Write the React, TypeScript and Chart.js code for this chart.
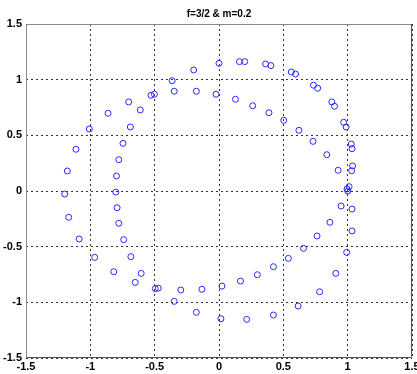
import React, { useEffect, useRef } from "react";
import { Chart, registerables } from "chart.js";
Chart.register(...registerables);

const TITLE = "f=3/2 & m=0.2";
const axisMin = -1.5;
const axisMax = 1.5;
const axisStep = 0.5;

const xValues = [
  0, 0.159, 0.2, 0.362, 0.403, 0.562, 0.595, 0.734, 0.767, 0.877, 0.898, 0.969, 0.988,
  1.028, 1.034, 1.038, 1.031, 1.011, 0.995, 1.001, 0.949, 1.034, 0.862, 1.034, 0.762,
  0.657, 0.992, 0.539, 0.423, 0.908, 0.298, 0.167, 0.023, 0.782, 0.615, 0.015, 0.215, 0.423,
  0.128, 0.262, 0.388, 0.503, 0.621, 0.731, 0.838, 0.926,
  -0.197, -0.364, -0.348, -0.176, -0.023, -0.528, -0.502, -0.702, -0.612, -0.862, -0.689,
  -1.008, -0.746, -1.112, -0.779, -1.179, -0.797, -0.802, -1.199, -0.792, -1.168, -0.779,
  -1.087, -0.741, -0.966, -0.685, -0.818, -0.605, -0.651, -0.495, -0.472, -0.297, -0.133,
  -0.348, -0.176,
];
const yValues = [
  1.147, 1.162, 1.162, 1.141, 1.126, 1.069, 1.051, 0.95, 0.923, 0.8, 0.761, 0.617, 0.575,
  0.422, 0.38, 0.225, 0.182, 0.039, 0.018, 0.0, -0.135, -0.162, -0.281, -0.359, -0.404,
  -0.515, -0.551, -0.605, -0.68, -0.74, -0.752, -0.809, -0.854, -0.905, -1.033, -1.147, -1.153, -1.114,
  0.824, 0.766, 0.703, 0.635, 0.545, 0.446, 0.326, 0.186,
  1.087, 0.991, 0.896, 0.896, 0.869, 0.86, 0.869, 0.8, 0.728, 0.698, 0.575,
  0.557, 0.428, 0.375, 0.281, 0.18, 0.135, -0.01, -0.027, -0.15, -0.236, -0.29,
  -0.431, -0.437, -0.596, -0.59, -0.725, -0.74, -0.821, -0.877, -0.872, -0.889, -0.883,
  -0.991, -1.09,
];

const FONT_FAMILY = "'Liberation Sans Narrow', 'Liberation Sans', Arial, sans-serif";
const fmt = (v: number) => String(Math.round(v * 10) / 10);

export default function App() {
  const ref = useRef<HTMLCanvasElement>(null);
  useEffect(() => {
    if (!ref.current) return;
    const boxPlugin = {
      id: "boxAndTitle",
      afterDraw(chart: any) {
        const { ctx, chartArea: a } = chart;
        const l = Math.round(a.left) + 0.5;
        const r = Math.round(a.right) - 0.5;
        const t = Math.round(a.top) + 0.5;
        const b = Math.round(a.bottom) - 0.5;
        ctx.save();
        ctx.lineWidth = 1;
        ctx.strokeStyle = "#8a8a8a";
        ctx.beginPath();
        ctx.moveTo(l, b);
        ctx.lineTo(l, t);
        ctx.lineTo(r, t);
        ctx.stroke();
        ctx.strokeStyle = "#555";
        ctx.beginPath();
        ctx.moveTo(r, t);
        ctx.lineTo(r, b);
        ctx.lineTo(l, b);
        ctx.stroke();
        ctx.fillStyle = "#000";
        ctx.font = `bold 10px ${FONT_FAMILY}`;
        ctx.textAlign = "center";
        ctx.textBaseline = "middle";
        ctx.fillText(TITLE, (a.left + a.right) / 2, 14.5);
        ctx.restore();
      },
    };
    const gridOpts = {
      color: "#333",
      lineWidth: 1,
      drawTicks: false,
    };
    const tickFont = { family: FONT_FAMILY, size: 11, weight: "bold" };
    const chart = new Chart(ref.current, {
      type: "scatter",
      data: {
        datasets: [
          {
            data: xValues.map((x, i) => ({ x, y: yValues[i] })),
            pointStyle: "circle",
            pointRadius: 3,
            pointBorderWidth: 1,
            pointBorderColor: "rgb(40,40,255)",
            pointBackgroundColor: "rgba(0,0,0,0)",
            showLine: false,
          },
        ],
      },
      options: {
        responsive: false,
        animation: false,
        devicePixelRatio: 1,
        layout: { padding: { top: 24, right: 1, left: 0, bottom: 0 } },
        plugins: { legend: { display: false }, tooltip: { enabled: false }, title: { display: false } },
        scales: {
          x: {
            type: "linear",
            min: axisMin,
            max: axisMax,
            grid: gridOpts,
            border: { display: false, dash: [2, 3] },
            ticks: {
              stepSize: axisStep,
              padding: 2,
              color: "#000",
              maxRotation: 0,
              autoSkip: false,
              font: tickFont,
              callback: (v: any) => fmt(Number(v)),
            },
            afterFit(s: any) {
              s.height = 16;
              s.paddingLeft = 0;
              s.paddingRight = 0;
            },
          },
          y: {
            type: "linear",
            min: axisMin,
            max: axisMax,
            grid: gridOpts,
            border: { display: false, dash: [2, 3] },
            ticks: {
              stepSize: axisStep,
              padding: 4,
              color: "#000",
              autoSkip: false,
              font: tickFont,
              callback: (v: any) => fmt(Number(v)),
            },
            afterFit(s: any) {
              s.width = 26;
              s.paddingTop = 0;
              s.paddingBottom = 0;
            },
          },
        },
      },
      plugins: [boxPlugin],
    } as any);
    return () => chart.destroy();
  }, []);
  return (
    <div style={{ position: "fixed", left: 0, top: 0, width: 417, height: 374, background: "#fff" }}>
      <canvas ref={ref} width={417} height={374} style={{ display: "block" }} />
    </div>
  );
}
